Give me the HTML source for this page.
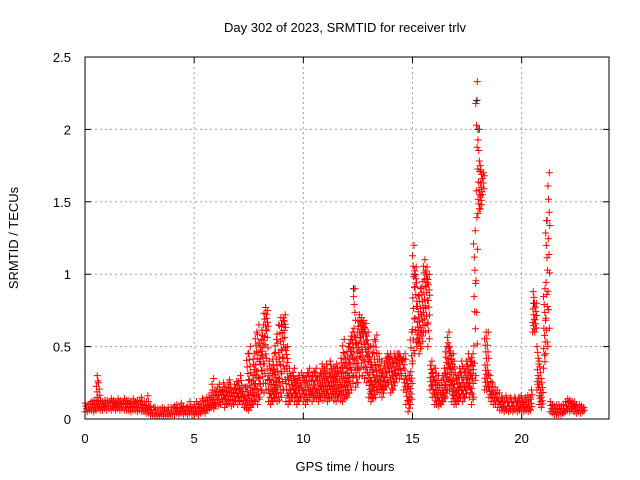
<!DOCTYPE html>
<html><head><meta charset="utf-8"><style>
html,body{margin:0;padding:0;background:#fff}
svg{display:block;font-family:"Liberation Sans",sans-serif}
</style></head><body>
<svg id="chart" width="640" height="480" viewBox="0 0 640 480" xmlns="http://www.w3.org/2000/svg">
<rect width="640" height="480" fill="#fff"/>
<text x="345" y="32" font-size="13" text-anchor="middle">Day 302 of 2023, SRMTID for receiver trlv</text>
<text x="345" y="471" font-size="13" text-anchor="middle">GPS time / hours</text>
<text transform="translate(18,238) rotate(-90)" font-size="13" text-anchor="middle">SRMTID / TECUs</text>
<g id="grid"></g>
<g id="ticks"></g>
<g id="black"></g>
<g id="red"></g>
<rect x="85" y="57" width="524" height="362" fill="none" stroke="#000" stroke-width="1"/>
</svg>
<script>
const xTicks=[0,5,10,15,20];
const yTicks=[0,0.5,1,1.5,2,2.5];
const yTickLabels=["0","0.5","1","1.5","2","2.5"];
const t0=0, dt=0.1;
const lo=[.05,.05,.06,.06,.05,.06,.07,.06,.06,.07,
.06,.07,.06,.07,.06,.07,.06,.07,.06,.06,
.06,.05,.06,.06,.05,.06,.05,.05,.04,.04,
.03,.03,.02,.02,.02,.03,.02,.02,.02,.03,
.03,.03,.04,.03,.04,.03,.04,.03,.04,.03,
.03,.04,.03,.04,.05,.04,.06,.07,.08,.07,
.1,.09,.1,.12,.08,.1,.11,.09,.1,.12,
.1,.12,.1,.08,.07,.06,.08,.1,.12,.1,
.15,.2,.18,.2,.12,.1,.12,.15,.12,.13,
.15,.2,.12,.1,.12,.15,.12,.1,.12,.15,
.12,.1,.13,.15,.12,.15,.14,.12,.15,.13,
.15,.12,.14,.15,.13,.12,.15,.13,.12,.14,
.15,.18,.2,.3,.22,.25,.35,.3,.28,.25,
.15,.12,.14,.15,.2,.18,.15,.2,.22,.25,
.18,.2,.25,.3,.28,.3,.2,.1,.05,.1,
.4,.45,.5,.45,.5,.6,.6,.5,.2,.15,
.1,.1,.09,.1,.12,.15,.2,.2,.12,.1,
.1,.12,.15,.12,.15,.2,.15,.1,.15,.3,
1.42,1.45,1.55,.2,.2,.15,.12,.1,.1,.08,
.06,.06,.05,.06,.05,.06,.05,.06,.05,.06,
.06,.05,.06,.05,.06,.6,.6,.2,.1,.08,
.35,.45,.5,.05,.04,.03,.03,.03,.03,.04,
.05,.06,.05,.06,.05,.04,.05,.04,.05];
const mid=[.08,.07,.08,.09,.08,.15,.12,.09,.09,.1,
.1,.09,.1,.1,.09,.1,.09,.1,.09,.1,
.09,.09,.1,.09,.09,.1,.09,.08,.08,.07,
.05,.06,.05,.04,.04,.05,.04,.04,.05,.05,
.05,.06,.06,.05,.07,.06,.05,.06,.07,.05,
.06,.07,.06,.08,.08,.09,.1,.11,.14,.12,
.16,.15,.17,.18,.15,.17,.18,.16,.17,.19,
.18,.2,.16,.14,.2,.25,.15,.25,.35,.3,
.4,.45,.55,.6,.25,.2,.25,.3,.3,.4,
.45,.6,.35,.2,.2,.25,.2,.2,.2,.22,
.2,.22,.25,.2,.22,.25,.2,.22,.25,.25,
.25,.22,.28,.24,.25,.25,.22,.28,.3,.28,
.3,.4,.45,.6,.4,.5,.55,.6,.5,.45,
.3,.25,.3,.35,.3,.28,.25,.3,.35,.38,
.3,.32,.35,.4,.38,.4,.3,.2,.15,.3,
.8,.9,.65,.65,.7,.85,.9,.8,.3,.25,
.2,.18,.15,.18,.2,.3,.4,.35,.25,.2,
.2,.22,.25,.22,.25,.3,.28,.3,.8,1.5,
1.6,1.6,1.65,.35,.35,.2,.18,.15,.15,.12,
.1,.1,.09,.1,.09,.1,.09,.1,.09,.1,
.1,.09,.1,.09,.12,.7,.7,.3,.2,.15,
.6,.9,1.2,.08,.06,.06,.05,.06,.05,.06,
.08,.1,.09,.1,.08,.07,.08,.07,.06];
const hi=[.11,.1,.11,.12,.13,.30,.25,.13,.12,.13,
.13,.12,.14,.13,.12,.14,.13,.12,.14,.13,
.13,.12,.14,.12,.13,.15,.12,.12,.16,.12,
.09,.08,.08,.07,.07,.08,.07,.06,.08,.08,
.08,.09,.1,.08,.11,.09,.08,.09,.12,.08,
.1,.12,.1,.14,.13,.15,.15,.18,.28,.2,
.22,.24,.2,.25,.22,.25,.27,.2,.24,.26,
.26,.3,.22,.22,.45,.5,.3,.45,.6,.65,
.55,.65,.77,.75,.4,.35,.45,.55,.65,.7,
.68,.72,.5,.35,.3,.35,.28,.3,.3,.32,
.3,.32,.35,.3,.33,.35,.3,.32,.38,.36,
.38,.32,.4,.35,.36,.38,.35,.42,.55,.45,
.5,.55,.6,.9,.6,.72,.7,.68,.66,.6,
.5,.45,.55,.58,.45,.4,.35,.42,.45,.45,
.42,.45,.45,.45,.45,.42,.45,.3,.3,.6,
1.2,1.05,.85,.9,.95,1.1,1.05,1.0,.4,.35,
.35,.3,.25,.3,.35,.5,.6,.5,.45,.4,
.3,.35,.4,.35,.4,.45,.4,.45,1.3,2.33,
2.0,1.75,1.7,.6,.6,.3,.25,.22,.2,.18,
.15,.14,.16,.14,.15,.14,.15,.14,.15,.16,
.14,.15,.16,.15,.2,.88,.8,.5,.4,.25,
.9,1.37,1.7,.12,.1,.09,.1,.1,.09,.1,
.12,.14,.13,.12,.12,.1,.1,.09,.08];
const blackT=[9.0,12.3,15.1,17.95,18.0,20.55,21.15];
const blackV=[0.65,0.9,1.0,2.2,2.0,0.8,1.37];

const X0=85,X1=609,Y0=419,Y1=57,XMAX=24,YMAX=2.5;
const sx=v=>X0+(X1-X0)*v/XMAX;
const sy=v=>Y0-(Y0-Y1)*v/YMAX;
const NS="http://www.w3.org/2000/svg";
function mk(tag,parent){const e=document.createElementNS(NS,tag);parent.appendChild(e);return e;}
const grid=document.getElementById('grid'),ticks=document.getElementById('ticks');
xTicks.forEach((v,i)=>{
  const x=sx(v);
  if(v>0){const l=mk('line',grid);
    
    
    l.setAttribute('x1',x);l.setAttribute('x2',x);l.setAttribute('y1',Y1);l.setAttribute('y2',Y0);
    l.setAttribute('stroke','#a0a0a0');l.setAttribute('stroke-dasharray','2,3');}
  [[Y0,Y0-6],[Y1,Y1+6]].forEach(p=>{const t=mk('line',ticks);
    
    
    t.setAttribute('x1',x);t.setAttribute('x2',x);t.setAttribute('y1',p[0]);t.setAttribute('y2',p[1]);t.setAttribute('stroke','#000');});
  const tx=mk('text',ticks);
  
  
  tx.setAttribute('x',x);tx.setAttribute('y',443);tx.setAttribute('font-size','13');tx.setAttribute('text-anchor','middle');
  tx.textContent=String(v);
});
yTicks.forEach((v,i)=>{
  const y=sy(v);
  if(v>0&&v<YMAX){const l=mk('line',grid);
    
    
    l.setAttribute('x1',X0);l.setAttribute('x2',X1);l.setAttribute('y1',y);l.setAttribute('y2',y);
    l.setAttribute('stroke','#a0a0a0');l.setAttribute('stroke-dasharray','2,3');}
  [[X0,X0+6],[X1,X1-6]].forEach(p=>{const t=mk('line',ticks);
    
    
    t.setAttribute('x1',p[0]);t.setAttribute('x2',p[1]);t.setAttribute('y1',y);t.setAttribute('y2',y);t.setAttribute('stroke','#000');});
  const tx=mk('text',ticks);
  
  
  tx.setAttribute('x',71);tx.setAttribute('y',y+5);tx.setAttribute('font-size','13');tx.setAttribute('text-anchor','end');
  tx.textContent=yTickLabels[i];
});
const redPath=[],blackPath=[];
function plus(arr,t,v){
  const x=sx(t),y=sy(v);
  arr.push(`M${(x-3.5).toFixed(1)},${y.toFixed(1)}H${(x+3.5).toFixed(1)}M${x.toFixed(1)},${(y-3.5).toFixed(1)}V${(y+3.5).toFixed(1)}`);
}
blackT.forEach((t,i)=>plus(blackPath,t,blackV[i]));
// each step: markers spread between lo..mid..hi (data range per 0.1 h)
lo.forEach((l,i)=>{
  const m=mid[i],h=hi[i],t=t0+i*dt;
  const span=sy(l)-sy(h);
  const n=Math.max(3,Math.min(12,Math.round(span/5)+2));
  for(let k=0;k<n;k++){
    const f=k/(n-1);
    const v=f<0.5? l+(m-l)*(f*2) : m+(h-m)*((f-0.5)*2);
    const off=((k*37)%10)/10*dt;
    plus(redPath,t+off,v);
  }
});
const bp=mk('path',document.getElementById('black'));


bp.setAttribute('d',blackPath.join(''));bp.setAttribute('stroke','#000');bp.setAttribute('fill','none');
const rp=mk('path',document.getElementById('red'));


rp.setAttribute('d',redPath.join(''));rp.setAttribute('stroke','#f00');rp.setAttribute('fill','none');
</script>
</body></html>
